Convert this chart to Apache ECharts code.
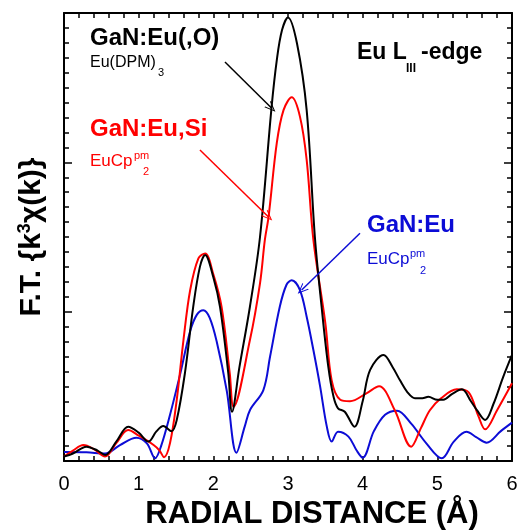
<!DOCTYPE html>
<html>
<head>
<meta charset="utf-8">
<script src="https://cdn.jsdelivr.net/npm/echarts@6/dist/echarts.min.js"></script>
<style>html,body{margin:0;padding:0;background:#fff}#c{width:520px;height:532px}</style>
</head>
<body>
<div id="c"></div>
<script>
// ---- data ----
var xTicks = [0, 1, 2, 3, 4, 5, 6];

var blackX = [0.00,0.12,0.30,0.45,0.55,0.70,0.86,1.00,1.13,1.24,1.33,1.44,1.51,1.62,1.73,1.82,1.89,2.00,2.09,2.20,2.25,2.35,2.49,2.625,2.78,2.85,2.92,3.00,3.12,3.25,3.36,3.45,3.54,3.61,3.67,3.76,3.89,4.00,4.10,4.28,4.40,4.50,4.60,4.70,4.80,4.88,5.00,5.08,5.20,5.33,5.45,5.53,5.64,5.75,5.88,6.00];
var blackY = [0.03,0.05,0.096,0.07,0.04,0.13,0.23,0.19,0.13,0.20,0.234,0.20,0.275,0.59,1.03,1.30,1.38,1.23,1.03,0.59,0.33,0.63,1.033,1.50,2.37,2.685,2.886,2.97,2.797,2.35,1.50,1.033,0.63,0.43,0.353,0.33,0.23,0.40,0.61,0.71,0.63,0.54,0.46,0.42,0.42,0.43,0.41,0.41,0.45,0.48,0.40,0.34,0.275,0.38,0.56,0.71];

var redX = [0.00,0.12,0.26,0.40,0.55,0.70,0.86,1.00,1.20,1.28,1.34,1.42,1.51,1.60,1.69,1.80,1.89,2.00,2.11,2.22,2.27,2.49,2.625,2.69,2.74,2.85,2.94,3.05,3.16,3.25,3.34,3.50,3.585,3.70,3.83,4.05,4.22,4.43,4.65,4.78,4.90,5.05,5.26,5.42,5.55,5.64,5.80,6.00];
var redY = [0.03,0.07,0.107,0.08,0.03,0.12,0.207,0.17,0.107,0.07,0.025,0.12,0.41,0.81,1.145,1.357,1.39,1.25,1.033,0.587,0.364,0.81,1.19,1.48,1.636,2.13,2.35,2.435,2.306,2.016,1.48,0.924,0.54,0.41,0.40,0.453,0.50,0.34,0.096,0.22,0.34,0.42,0.48,0.46,0.30,0.212,0.34,0.52];

var blueX = [0.00,0.30,0.55,0.75,0.97,1.11,1.22,1.30,1.42,1.55,1.69,1.78,1.866,1.95,2.045,2.18,2.31,2.42,2.49,2.67,2.76,2.89,2.98,3.05,3.16,3.25,3.34,3.43,3.52,3.585,3.67,3.81,3.92,4.00,4.15,4.30,4.46,4.65,4.85,5.06,5.22,5.39,5.52,5.66,5.85,6.00];
var blueY = [0.06,0.058,0.05,0.107,0.156,0.118,0.018,0.10,0.31,0.57,0.87,0.98,1.01,0.96,0.80,0.47,0.056,0.23,0.34,0.475,0.70,1.033,1.18,1.21,1.145,0.966,0.743,0.50,0.23,0.13,0.196,0.163,0.07,0.022,0.20,0.31,0.337,0.25,0.12,0.018,0.13,0.196,0.16,0.123,0.20,0.257];

// annotation arrows (data coordinates: [from, to])
var arrowBlack = [[2.156, 2.672], [2.779, 2.364]];
var arrowRed   = [[1.821, 2.083], [2.736, 1.636]];
var arrowBlue  = [[3.964, 1.525], [3.183, 1.145]];

var C_BLACK = '#000000', C_RED = '#ff0000', C_BLUE = '#0c0cd6';
var FF = '"Liberation Sans", Arial, sans-serif';

function pairs(xs, ys) { return xs.map(function (x, i) { return [x, ys[i]]; }); }

var arrowHead = 'path://M0,0 L6,11 L4.6,11 L0,2.6 L-4.6,11 L-6,11 Z';

function arrow(a, color) {
  return {
    silent: true, animation: false,
    symbol: ['none', arrowHead], symbolSize: [9, 11],
    lineStyle: { color: color, width: 1.5, type: 'solid' },
    label: { show: false },
    data: [[{ coord: a[0] }, { coord: a[1] }]]
  };
}

function line(name, xs, ys, color, a) {
  return {
    name: name, type: 'line', data: pairs(xs, ys),
    smooth: 0.35, showSymbol: false, symbol: 'none',
    lineStyle: { color: color, width: 2 }, itemStyle: { color: color },
    markLine: arrow(a, color), z: 3
  };
}

var axisCommonX = {
  type: 'value', min: 0, max: 6, interval: 1,
  axisLine: { show: true, onZero: false, lineStyle: { color: '#000', width: 2 } },
  axisTick: { show: true, inside: true, length: 5, lineStyle: { color: '#000', width: 1.5 } },
  minorTick: { show: true, splitNumber: 5, length: 5, lineStyle: { color: '#000', width: 1.5 } },
  splitLine: { show: false }, minorSplitLine: { show: false }
};
var axisCommonY = {
  type: 'value', min: 0, max: 3, interval: 1,
  axisLine: { show: true, onZero: false, lineStyle: { color: '#000', width: 2 } },
  axisTick: { show: true, inside: true, length: 8, lineStyle: { color: '#000', width: 1.5 } },
  minorTick: { show: true, splitNumber: 10, length: 5, lineStyle: { color: '#000', width: 1.5 } },
  axisLabel: { show: false },
  splitLine: { show: false }, minorSplitLine: { show: false }
};

function txt(s, x, y, size, color, bold) {
  return {
    type: 'text', x: x, y: y, silent: true, z: 10,
    style: {
      text: s, fill: color,
      font: (bold ? 'bold ' : '') + size + 'px ' + FF,
      align: 'left', verticalAlign: 'middle',
      textAlign: 'left', textVerticalAlign: 'middle'
    }
  };
}

var chart = echarts.init(document.getElementById('c'), null, { renderer: 'canvas' });
chart.setOption({
  animation: false,
  backgroundColor: '#fff',
  grid: { left: 64, top: 13, right: 8, bottom: 71, containLabel: false, outerBoundsMode: 'none' },
  xAxis: [
    Object.assign({}, axisCommonX, {
      position: 'bottom',
      axisLabel: { show: true, color: '#000', fontSize: 20, fontFamily: FF, margin: 13,
        formatter: function (v) { return xTicks.indexOf(v) >= 0 ? String(v) : ''; } },
      name: 'RADIAL DISTANCE (Å)', nameLocation: 'middle', nameGap: 38,
      nameTextStyle: { color: '#000', fontSize: 31, fontWeight: 'bold', fontFamily: FF, padding: [0, 0, 0, 48] }
    }),
    Object.assign({}, axisCommonX, { position: 'top', axisLabel: { show: false } })
  ],
  yAxis: [
    Object.assign({}, axisCommonY, {
      position: 'left',
      name: 'F.T. {k{sup|3}χ(k)}', nameLocation: 'middle', nameGap: 16, nameRotate: 90,
      nameTextStyle: { color: '#000', fontSize: 30, fontWeight: 'bold', fontFamily: FF,
        rich: { sup: { fontSize: 18, fontWeight: 'bold', fontFamily: FF, color: '#000', verticalAlign: 'top', lineHeight: 32 } } }
    }),
    Object.assign({}, axisCommonY, { position: 'right' })
  ],
  series: [
    line('GaN:Eu', blueX, blueY, C_BLUE, arrowBlue),
    line('GaN:Eu,Si', redX, redY, C_RED, arrowRed),
    line('GaN:Eu(,O)', blackX, blackY, C_BLACK, arrowBlack)
  ],
  graphic: [
    txt('GaN:Eu(,O)', 90, 38.5, 24, C_BLACK, true),
    txt('Eu(DPM)', 90, 63, 16, C_BLACK, false),
    txt('3', 158, 73, 11, C_BLACK, false),

    txt('GaN:Eu,Si', 90, 129, 24, C_RED, true),
    txt('EuCp', 90, 161, 17, C_RED, false),
    txt('pm', 134, 156, 11, C_RED, false),
    txt('2', 143, 172, 11, C_RED, false),

    txt('Eu L', 357, 53, 23, C_BLACK, true),
    txt('III', 406, 69, 12, C_BLACK, true),
    txt('-edge', 421, 53, 23, C_BLACK, true),

    txt('GaN:Eu', 367, 225.5, 24, C_BLUE, true),
    txt('EuCp', 367, 259.5, 17, C_BLUE, false),
    txt('pm', 410, 254, 11, C_BLUE, false),
    txt('2', 420, 271, 11, C_BLUE, false)
  ]
});
</script>
</body>
</html>
